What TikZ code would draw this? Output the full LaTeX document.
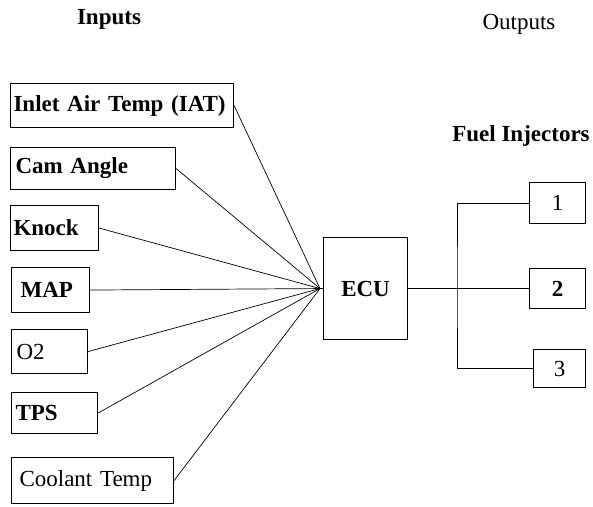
\documentclass[tikz,border=0pt]{standalone}
\usepackage{fontspec}
\setmainfont{Liberation Serif}
\usetikzlibrary{positioning}

\begin{document}
\begin{tikzpicture}[x=1pt, y=-1pt,
    lbl/.style={font=\fontsize{23}{26}\selectfont\bfseries},
    inbox/.style={draw, line width=1.1pt, anchor=north west, inner ysep=0pt, inner xsep=5pt,
        align=left, font=\fontsize{23}{26}\selectfont\bfseries},
    outbox/.style={draw, line width=1.1pt, anchor=north west, inner sep=0pt,
        font=\fontsize{23}{26}\selectfont\bfseries},
    plain/.style={font=\fontsize{23}{26}\selectfont},
    wire/.style={line width=0.7pt}]
    \newcommand\hubgap{3}

    \useasboundingbox (0,0) rectangle (593,506);

    % titles
    \node[lbl] (inputs) at (109,19) {Inputs};
    \node[lbl, plain] (outputs) at (519,24) {Outputs};
    \node[lbl] (fuelinj) at (521,136) {Fuel Injectors};

    % sensor boxes
    \node[inbox, inner xsep=3pt, text width=217pt, minimum height=44pt] (iat) at (10,83) {Inlet Air Temp (IAT)};
    \node[inbox, text width=155pt, minimum height=42pt] (cam) at (10,147) {Cam Angle};
    \node[inbox, inner xsep=3pt, text width=82pt, minimum height=45pt] (knock) at (10,205) {Knock};
    \node[inbox, inner xsep=9pt, text width=60pt, minimum height=45pt] (map) at (11,267) {MAP};
    \node[inbox, plain, text width=66pt, minimum height=44pt] (otwo) at (11,329) {O2};
    \node[inbox, inner xsep=4pt, text width=78pt, minimum height=41pt] (tps) at (11,392) {TPS};
    \node[inbox, plain, inner xsep=8pt, text width=146pt, minimum height=46pt] (cool) at (11,457) {Coolant Temp};

    % ecu
    \node[outbox, minimum width=84pt, minimum height=102pt] (ecu) at (323,237) {ECU};
    \coordinate (hub) at ([xshift=-\hubgap pt]ecu.west);

    % injectors
    \node[outbox, plain, minimum width=56pt, minimum height=41pt] (inj1) at (529,182) {1};
    \node[outbox, minimum width=56pt, minimum height=40pt] (inj2) at (529,268) {2};
    \node[outbox, plain, minimum width=52pt, minimum height=38pt] (inj3) at (533,349) {3};

    % draw wires
    \foreach \n in {iat,cam,knock,map,otwo,tps,cool}
        \draw[wire] (\n.east) -- (hub);
    \draw[wire] (hub) -- (ecu.west);

    \coordinate (bus) at (457,288);
    \draw[wire] (ecu.east) -- (inj2.west);
    \draw[wire] (inj1.west) -| (bus) |- (inj3.west);
\end{tikzpicture}
\end{document}
